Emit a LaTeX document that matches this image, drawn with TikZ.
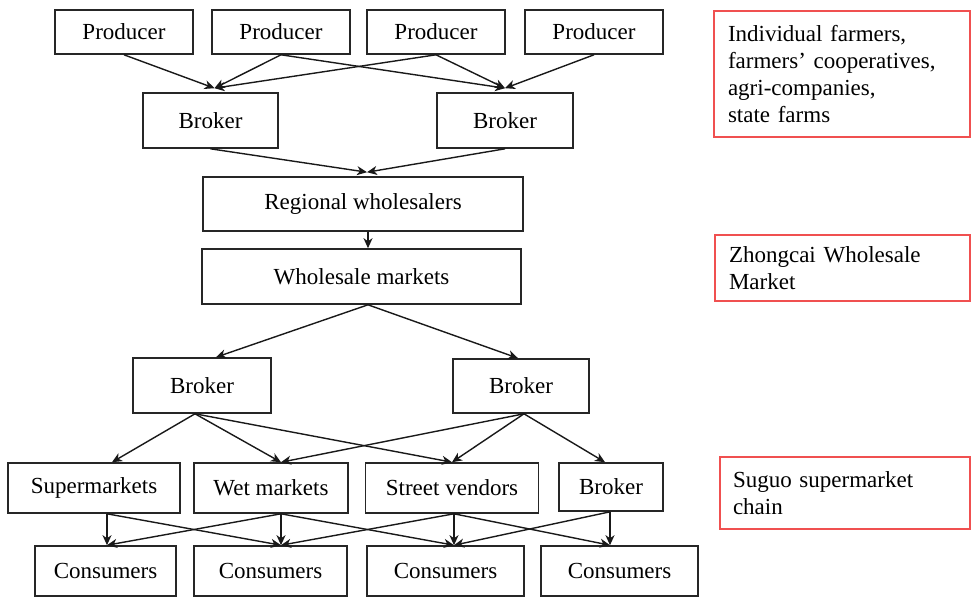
\documentclass[tikz,border=0pt]{standalone}
\usepackage{fontspec}
\setmainfont{Liberation Serif}
\usetikzlibrary{arrows.meta,calc}
\definecolor{notered}{RGB}{240,80,80}
\begin{document}
\begin{tikzpicture}[x=1pt,y=-1pt,
  box/.style={draw=black!85,line width=1.6pt,inner sep=0pt,font=\fontsize{23}{27}\selectfont},
  note/.style={draw=notered,line width=1.5pt,inner xsep=14pt,inner ysep=0pt,align=left,font=\fontsize{23}{27}\selectfont},
  arr/.style={-{Stealth[length=10pt,width=9pt,inset=3pt]},line width=1.4pt,draw=black!90}]
\useasboundingbox (0,0) rectangle (971,597);
% producers
\node[box,minimum width=138pt,minimum height=44pt] (p1) at (124,32) {Producer};
\node[box,minimum width=138pt,minimum height=44pt] (p2) at (281,32) {Producer};
\node[box,minimum width=138pt,minimum height=44pt] (p3) at (436,32) {Producer};
\node[box,minimum width=138pt,minimum height=44pt] (p4) at (594,32) {Producer};
% brokers
\node[box,minimum width=135pt,minimum height=55pt] (b1) at (210.5,120.5) {Broker};
\node[box,minimum width=136pt,minimum height=55pt] (b2) at (505,120.5) {Broker};
% wholesalers
\node[box,minimum width=320pt,minimum height=54pt] (rw) at (363,204) {Regional wholesalers};
\node[box,minimum width=319pt,minimum height=55pt] (wm) at (361.5,276.5) {Wholesale markets};
% brokers 2
\node[box,minimum width=138pt,minimum height=55pt] (b3) at (202,385.5) {Broker};
\node[box,minimum width=136pt,minimum height=54pt] (b4) at (521,386) {Broker};
% retail
\node[box,minimum width=172pt,minimum height=50pt] (sm) at (94,488) {Supermarkets};
\node[box,minimum width=154pt,minimum height=50pt] (wt) at (271,488) {Wet markets};
\node[box,minimum width=173pt,minimum height=50pt] (sv) at (452,488) {Street vendors};
\node[box,minimum width=104pt,minimum height=48pt] (b5) at (611,487) {Broker};
% consumers
\node[box,minimum width=141pt,minimum height=50pt] (c1) at (105.5,571) {Consumers};
\node[box,minimum width=153pt,minimum height=50pt] (c2) at (270.5,571) {Consumers};
\node[box,minimum width=157pt,minimum height=50pt] (c3) at (445.5,571) {Consumers};
\node[box,minimum width=157pt,minimum height=50pt] (c4) at (619.5,571) {Consumers};
% notes
\node[note,minimum width=256pt,minimum height=126pt,text width=228pt] (r1) at (842,74)
  {Individual farmers,\\farmers’ cooperatives,\\agri-companies,\\state farms};
\node[note,minimum width=255pt,minimum height=66pt,text width=227pt] (r2) at (842.5,268)
  {Zhongcai Wholesale\\Market};
\node[note,inner xsep=13pt,minimum width=250pt,minimum height=72pt,text width=224pt] (r3) at (845,493)
  {Suguo supermarket\\chain};
% ports
\coordinate (b1in) at ($(b1.north)+(4,-4)$);
\coordinate (b2in) at ($(b2.north)+(0,-4)$);
\coordinate (rwin) at ($(rw.north)+(4,-4)$);
\coordinate (rwout) at ($(rw.south)+(5,0)$);
\coordinate (wmin) at ($(wm.north)+(6.5,0)$);
\coordinate (wmout) at ($(wm.south)+(6.5,0)$);
\coordinate (b3in) at ($(b3.north)+(14,0)$);
\coordinate (b4in) at ($(b4.north)+(-3,0)$);
\coordinate (b3out) at ($(b3.south)+(-7,0)$);
\coordinate (b4out) at ($(b4.south)+(3,0)$);
\coordinate (smin) at ($(sm.north)+(18,0)$);
\coordinate (wtin) at ($(wt.north)+(10,0)$);
\coordinate (svin) at ($(sv.north)+(0,0)$);
\coordinate (b5in) at ($(b5.north)+(-6,0)$);
\coordinate (smout) at ($(sm.south)+(13,0)$);
\coordinate (wtout) at ($(wt.south)+(10,0)$);
\coordinate (svout) at ($(sv.south)+(2,0)$);
\coordinate (b5out) at ($(b5.south)+(-1,0)$);
\coordinate (c1in) at ($(c1.north)+(1.5,0)$);
\coordinate (c2in) at ($(c2.north)+(10.5,0)$);
\coordinate (c3in) at ($(c3.north)+(8.5,0)$);
\coordinate (c4in) at ($(c4.north)+(-9.5,0)$);
% connectors
\draw[arr] (p1.south) -- (b1in);
\draw[arr] (p2.south) -- (b1in);
\draw[arr] (p3.south) -- (b1in);
\draw[arr] (p2.south) -- (b2in);
\draw[arr] (p3.south) -- (b2in);
\draw[arr] (p4.south) -- (b2in);
\draw[arr] (b1.south) -- (rwin);
\draw[arr] (b2.south) -- (rwin);
\draw[arr] (rwout) -- (wmin);
\draw[arr] (wmout) -- (b3in);
\draw[arr] (wmout) -- (b4in);
\draw[arr] (b3out) -- (smin);
\draw[arr] (b3out) -- (wtin);
\draw[arr] (b3out) -- (svin);
\draw[arr] (b4out) -- (wtin);
\draw[arr] (b4out) -- (svin);
\draw[arr] (b4out) -- (b5in);
\draw[arr] (smout) -- (c1in);
\draw[arr] (smout) -- (c2in);
\draw[arr] (wtout) -- (c1in);
\draw[arr] (wtout) -- (c2in);
\draw[arr] (wtout) -- (c3in);
\draw[arr] (svout) -- (c2in);
\draw[arr] (svout) -- (c3in);
\draw[arr] (svout) -- (c4in);
\draw[arr] (b5out) -- (c3in);
\draw[arr] (b5out) -- (c4in);
\end{tikzpicture}
\end{document}
